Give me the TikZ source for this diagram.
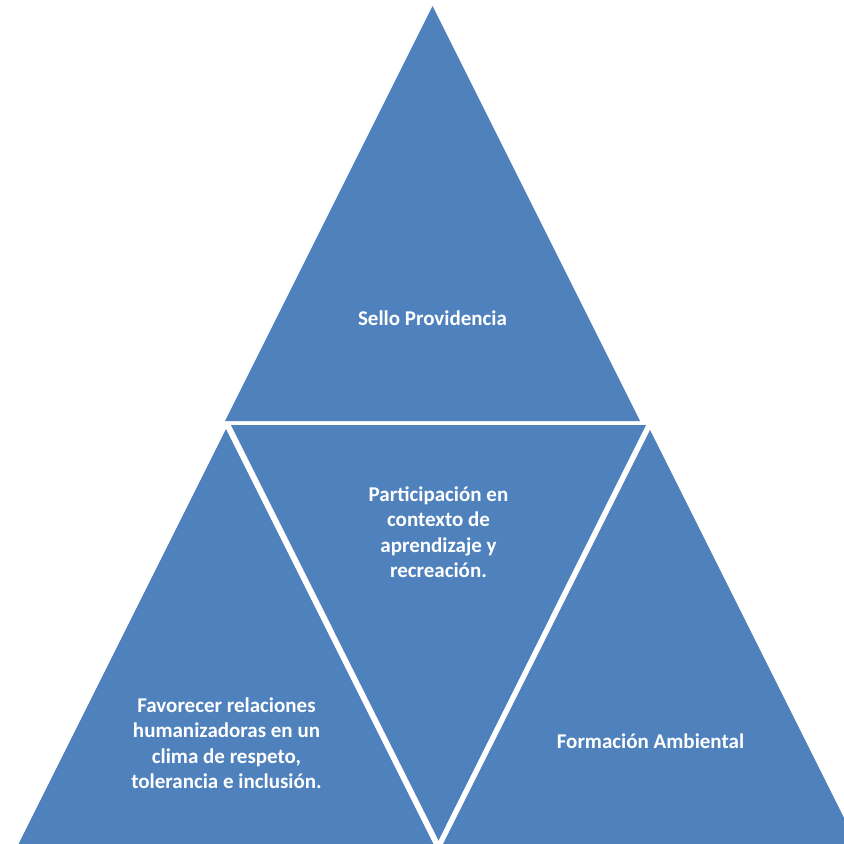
\documentclass[tikz,border=0pt]{standalone}
\usepackage{fontspec}
\setmainfont{Carlito}
\definecolor{tribase}{HTML}{4F81BD}
\tikzset{
  tri/.style={fill=tribase, draw=none},
  lbl/.style={text=white, font=\bfseries\fontsize{21}{25.5}\selectfont, align=center, inner sep=0pt}
}
\begin{document}
\begin{tikzpicture}[x=1pt,y=-1pt]
\useasboundingbox (0,0) rectangle (844,844);
\clip (0,0) rectangle (844,844);
% top triangle
\path[tri] (432.5,6) -- (640,421) -- (225,421) -- cycle;
% middle inverted triangle
\path[tri] (231,425) -- (646,425) -- (438.5,840.5) -- cycle;
% left triangle
\path[tri] (226,429) -- (441.5,860) -- (10.5,860) -- cycle;
% right triangle
\path[tri] (650,430) -- (865,860) -- (435,860) -- cycle;
% labels
\node[lbl] (top) at (432.5,318) {Sello Providencia};
\node[lbl] (mid) at (438.5,532) {Participación en\\contexto de\\aprendizaje y\\recreación.};
\node[lbl] (left) at (226.5,743) {Favorecer relaciones\\humanizadoras en un\\clima de respeto,\\tolerancia e inclusión.};
\node[lbl] (right) at (650.5,741) {Formación Ambiental};
\end{tikzpicture}
\end{document}
